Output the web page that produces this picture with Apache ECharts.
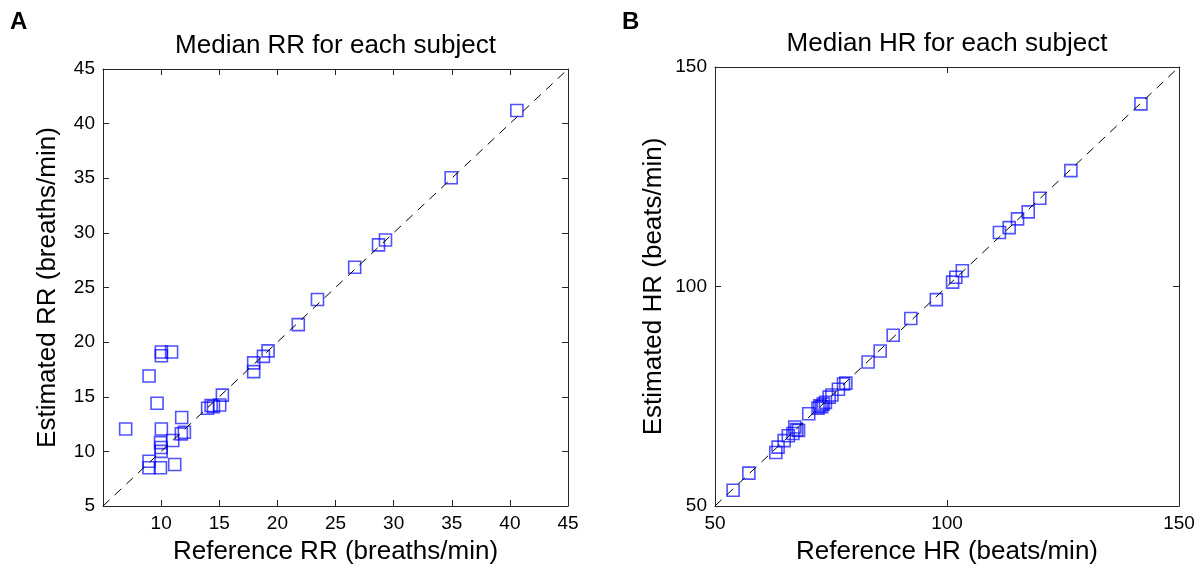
<!DOCTYPE html>
<html>
<head>
<meta charset="utf-8">
<script src="https://cdn.jsdelivr.net/npm/echarts@6/dist/echarts.min.js"></script>
<style>
  html, body { margin: 0; padding: 0; background: #fff; }
  #main { width: 1200px; height: 570px; }
</style>
</head>
<body>
<div id="main"></div>
<script>
// panel A: median respiratory rate per subject
var rrRef = [6.95, 8.96, 9.65, 10.02, 10.02, 10.9, 11.77, 10.02, 9.95, 10.0, 10.0, 11.0, 11.74, 12.0,
    8.96, 8.96, 9.94, 11.17, 14.0, 14.3, 14.5, 15.04, 15.27, 17.96, 17.96, 18.8, 19.2, 21.8,
    23.45, 26.65, 28.7, 29.3, 34.95, 40.6];
var rrEst = [12.05, 16.9, 14.4, 19.1, 18.75, 19.1, 13.1, 12.05, 10.8, 10.35, 10.0, 11.0, 11.6, 11.75,
    9.1, 8.5, 8.5, 8.8, 13.95, 14.2, 14.1, 14.25, 15.15, 18.1, 17.3, 18.7, 19.2, 21.6,
    23.9, 26.85, 28.9, 29.35, 35.05, 41.2];
var rrLimits = [5, 45];
var rrTicks = [5, 10, 15, 20, 25, 30, 35, 40, 45];

// panel B: median heart rate per subject
var hrRef = [53.9, 57.3, 63.1, 63.6, 64.9, 65.8, 66.8, 67.2, 67.6, 68.0, 70.2, 72.2, 72.6, 73.0,
    73.3, 73.8, 74.6, 75.2, 76.6, 77.7, 78.2, 83.0, 85.6, 88.4, 92.2, 97.7, 101.2, 101.9,
    103.3, 111.3, 113.4, 115.2, 117.5, 120.0, 126.7, 141.8];
var hrEst = [53.6, 57.5, 62.2, 63.4, 64.9, 66.0, 66.5, 68.0, 67.4, 67.2, 71.0, 72.3, 72.8, 72.6,
    73.2, 73.6, 74.8, 75.3, 76.6, 77.8, 78.0, 82.8, 85.3, 88.9, 92.7, 97.0, 101.0, 102.1,
    103.6, 112.3, 113.4, 115.4, 117.0, 120.1, 126.4, 141.6];
var hrLimits = [50, 150];
var hrTicks = [50, 100, 150];

var FONT = '"Liberation Sans", Arial, sans-serif';
var AXIS_COLOR = '#262626';
var MARK_STYLE = { color: 'rgba(0,0,0,0)', borderColor: 'rgba(0,0,255,0.85)', borderWidth: 1.6 };

function pairs(xs, ys) {
    var out = [];
    for (var i = 0; i < xs.length; i++) out.push([xs[i], ys[i]]);
    return out;
}

// one axis of the boxed matlab-style plot
function makeAxis(gridIndex, pos, ticks, opts) {
    opts = opts || {};
    return {
        type: 'value',
        gridIndex: gridIndex,
        position: pos,
        min: ticks[0],
        max: ticks[ticks.length - 1],
        interval: ticks[1] - ticks[0],
        name: opts.name || '',
        nameLocation: 'middle',
        nameGap: opts.nameGap || 0,
        nameTextStyle: { fontFamily: FONT, fontSize: 26, color: '#000' },
        axisLine: { show: true, onZero: false, lineStyle: { color: AXIS_COLOR, width: 1 } },
        axisTick: { show: true, inside: true, length: 6, lineStyle: { color: AXIS_COLOR } },
        splitLine: { show: false },
        axisLabel: {
            show: !!opts.labels,
            fontFamily: FONT,
            fontSize: 19,
            color: '#000',
            margin: 8,
            formatter: opts.hideFirst ? function (v) { return v === ticks[0] ? '' : v; } : null
        }
    };
}

var chart = echarts.init(document.getElementById('main'));
var option = {
    animation: false,
    backgroundColor: '#fff',
    grid: [
        { left: 103, top: 69, width: 465, height: 441 },
        { left: 715, top: 67, width: 464, height: 443 }
    ],
    xAxis: [
        makeAxis(0, 'bottom', rrTicks, { labels: true, hideFirst: true, name: 'Reference RR (breaths/min)', nameGap: 33 }),
        makeAxis(0, 'top', rrTicks),
        makeAxis(1, 'bottom', hrTicks, { labels: true, name: 'Reference HR (beats/min)', nameGap: 33 }),
        makeAxis(1, 'top', hrTicks)
    ],
    yAxis: [
        makeAxis(0, 'left', rrTicks, { labels: true, name: 'Estimated RR (breaths/min)', nameGap: 42 }),
        makeAxis(0, 'right', rrTicks),
        makeAxis(1, 'left', hrTicks, { labels: true, name: 'Estimated HR (beats/min)', nameGap: 48 }),
        makeAxis(1, 'right', hrTicks)
    ],
    graphic: [
        { type: 'text', x: 10, y: 10, style: { text: 'A', font: 'bold 24px ' + FONT, fill: '#000' } },
        { type: 'text', x: 622, y: 10, style: { text: 'B', font: 'bold 24px ' + FONT, fill: '#000' } },
        { type: 'text', x: 335.5, y: 46, style: { text: 'Median RR for each subject', font: '26px ' + FONT, fill: '#000', textAlign: 'center', textVerticalAlign: 'middle' } },
        { type: 'text', x: 947, y: 44, style: { text: 'Median HR for each subject', font: '26px ' + FONT, fill: '#000', textAlign: 'center', textVerticalAlign: 'middle' } }
    ],
    series: [
        {
            name: 'RR',
            type: 'scatter',
            xAxisIndex: 0,
            yAxisIndex: 0,
            symbol: 'rect',
            symbolSize: 12,
            itemStyle: MARK_STYLE,
            emphasis: { disabled: true },
            data: pairs(rrRef, rrEst)
        },
        {
            name: 'RR identity',
            type: 'line',
            xAxisIndex: 0,
            yAxisIndex: 0,
            symbol: 'none',
            silent: true,
            lineStyle: { color: '#000', width: 1, type: [9, 7] },
            data: pairs(rrLimits, rrLimits)
        },
        {
            name: 'HR',
            type: 'scatter',
            xAxisIndex: 2,
            yAxisIndex: 2,
            symbol: 'rect',
            symbolSize: 12,
            itemStyle: MARK_STYLE,
            emphasis: { disabled: true },
            data: pairs(hrRef, hrEst)
        },
        {
            name: 'HR identity',
            type: 'line',
            xAxisIndex: 2,
            yAxisIndex: 2,
            symbol: 'none',
            silent: true,
            lineStyle: { color: '#000', width: 1, type: [9, 7] },
            data: pairs(hrLimits, hrLimits)
        }
    ]
};
chart.setOption(option);
</script>
</body>
</html>
